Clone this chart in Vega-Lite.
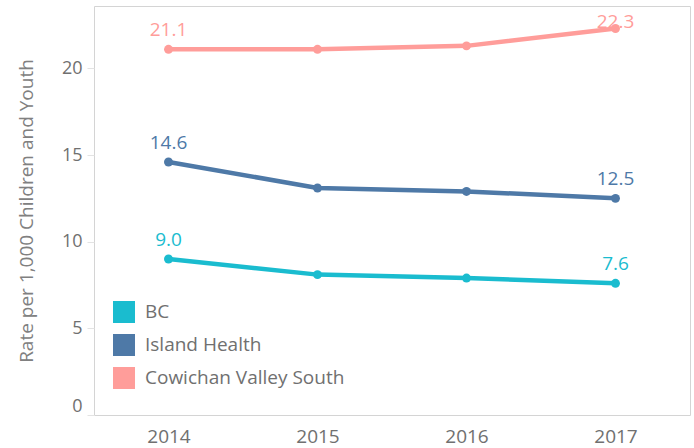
{
  "$schema": "https://vega.github.io/schema/vega-lite/v6.json",
  "width": 596,
  "height": 409,
  "autosize": {"type": "none"},
  "padding": {"left": 94, "top": 6, "right": 4, "bottom": 33},
  "background": "white",
  "config": {
    "font": "Open Sans",
    "view": {"stroke": "#d4d4d4", "strokeWidth": 1}
  },
  "data": {
    "values": [
      {"year": "2014", "region": "BC", "rate": 9.0},
      {"year": "2015", "region": "BC", "rate": 8.1},
      {"year": "2016", "region": "BC", "rate": 7.9},
      {"year": "2017", "region": "BC", "rate": 7.6},
      {"year": "2014", "region": "Island Health", "rate": 14.6},
      {"year": "2015", "region": "Island Health", "rate": 13.1},
      {"year": "2016", "region": "Island Health", "rate": 12.9},
      {"year": "2017", "region": "Island Health", "rate": 12.5},
      {"year": "2014", "region": "Cowichan Valley South", "rate": 21.1},
      {"year": "2015", "region": "Cowichan Valley South", "rate": 21.1},
      {"year": "2016", "region": "Cowichan Valley South", "rate": 21.3},
      {"year": "2017", "region": "Cowichan Valley South", "rate": 22.3}
    ]
  },
  "encoding": {
    "x": {
      "field": "year",
      "type": "ordinal",
      "scale": {"type": "point", "padding": 0.5},
      "axis": {
        "title": null,
        "labelAngle": 0,
        "ticks": false,
        "domain": false,
        "labelFontSize": 19,
        "labelColor": "#707070",
        "labelPadding": 12
      }
    },
    "y": {
      "field": "rate",
      "type": "quantitative",
      "scale": {"domain": [0, 23.6], "nice": false},
      "axis": {
        "title": "Rate per 1,000 Children and Youth",
        "values": [0, 5, 10, 15, 20],
        "grid": false,
        "domain": false,
        "tickColor": "#e3e3e3",
        "tickSize": 7,
        "labelPadding": 5,
        "labelFontSize": 18,
        "labelColor": "#707070",
        "labelFlush": true,
        "titleFontSize": 19,
        "titleFontWeight": "normal",
        "titleColor": "#808080",
        "titlePadding": 25
      }
    },
    "color": {
      "field": "region",
      "type": "nominal",
      "sort": ["BC", "Island Health", "Cowichan Valley South"],
      "scale": {
        "domain": ["BC", "Island Health", "Cowichan Valley South"],
        "range": ["#1abccf", "#4e79a7", "#ff9d9a"]
      },
      "legend": {
        "title": null,
        "orient": "none",
        "legendX": 19,
        "legendY": 295,
        "symbolType": "square",
        "symbolSize": 484,
        "symbolStrokeWidth": 0,
        "symbolOpacity": 1,
        "labelFontSize": 19,
        "labelColor": "#707070",
        "labelOffset": 10,
        "labelLimit": 0,
        "rowPadding": 11,
        "padding": 0
      }
    }
  },
  "layer": [
    {
      "mark": {"type": "line", "strokeWidth": 4.5}
    },
    {
      "mark": {"type": "point", "filled": true, "size": 80, "opacity": 1}
    },
    {
      "transform": [{"filter": "(datum.year == '2014' || datum.year == '2017') && !(datum.year == '2017' && datum.region == 'Cowichan Valley South')"}],
      "mark": {"type": "text", "dy": -19, "fontSize": 19},
      "encoding": {
        "text": {"field": "rate", "type": "quantitative", "format": ".1f"}
      }
    },
    {
      "transform": [{"filter": "datum.year == '2017' && datum.region == 'Cowichan Valley South'"}],
      "mark": {"type": "text", "dy": -7, "fontSize": 19},
      "encoding": {
        "text": {"field": "rate", "type": "quantitative", "format": ".1f"}
      }
    }
  ]
}
